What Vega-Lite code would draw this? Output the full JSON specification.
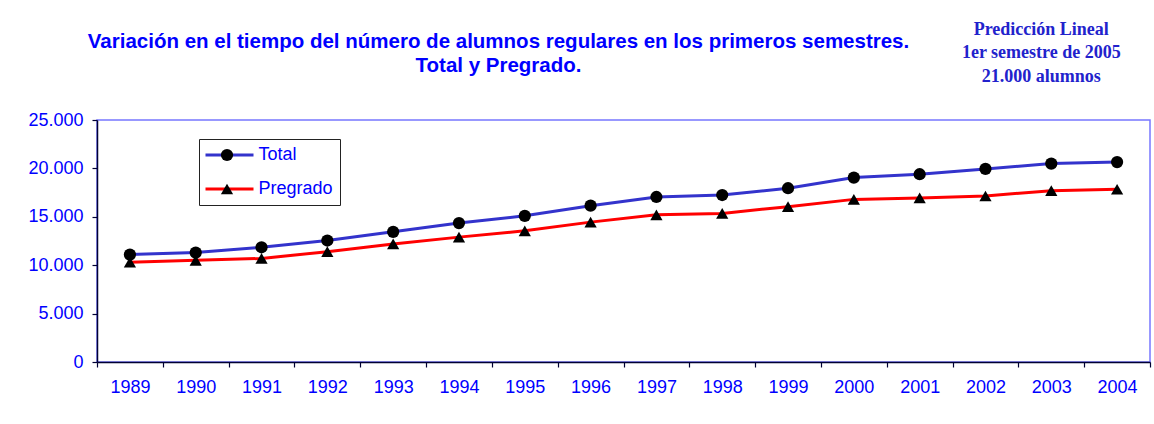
{
  "$schema": "https://vega.github.io/schema/vega-lite/v6.json",
  "autosize": "none",
  "width": 1053,
  "height": 242,
  "padding": {"left": 97, "top": 120, "right": 4, "bottom": 62},
  "background": "white",
  "title": {
    "text": ["Variación en el tiempo del número de alumnos  regulares en los primeros semestres.", "Total y Pregrado."],
    "anchor": "middle",
    "frame": "group",
    "dx": -125,
    "offset": -56,
    "font": "Liberation Sans",
    "fontSize": 20.5,
    "fontWeight": "bold",
    "color": "#0000FF",
    "lineHeight": 24
  },
  "data": {
    "values": [
      {"year": "1989", "serie": "Total", "alumnos": 11100},
      {"year": "1990", "serie": "Total", "alumnos": 11300},
      {"year": "1991", "serie": "Total", "alumnos": 11850},
      {"year": "1992", "serie": "Total", "alumnos": 12550},
      {"year": "1993", "serie": "Total", "alumnos": 13450},
      {"year": "1994", "serie": "Total", "alumnos": 14350},
      {"year": "1995", "serie": "Total", "alumnos": 15100},
      {"year": "1996", "serie": "Total", "alumnos": 16150},
      {"year": "1997", "serie": "Total", "alumnos": 17050},
      {"year": "1998", "serie": "Total", "alumnos": 17250},
      {"year": "1999", "serie": "Total", "alumnos": 17950},
      {"year": "2000", "serie": "Total", "alumnos": 19050},
      {"year": "2001", "serie": "Total", "alumnos": 19400},
      {"year": "2002", "serie": "Total", "alumnos": 19950},
      {"year": "2003", "serie": "Total", "alumnos": 20500},
      {"year": "2004", "serie": "Total", "alumnos": 20650},
      {"year": "1989", "serie": "Pregrado", "alumnos": 10300},
      {"year": "1990", "serie": "Pregrado", "alumnos": 10500},
      {"year": "1991", "serie": "Pregrado", "alumnos": 10700},
      {"year": "1992", "serie": "Pregrado", "alumnos": 11400},
      {"year": "1993", "serie": "Pregrado", "alumnos": 12200},
      {"year": "1994", "serie": "Pregrado", "alumnos": 12900},
      {"year": "1995", "serie": "Pregrado", "alumnos": 13550},
      {"year": "1996", "serie": "Pregrado", "alumnos": 14450},
      {"year": "1997", "serie": "Pregrado", "alumnos": 15200},
      {"year": "1998", "serie": "Pregrado", "alumnos": 15350},
      {"year": "1999", "serie": "Pregrado", "alumnos": 16050},
      {"year": "2000", "serie": "Pregrado", "alumnos": 16800},
      {"year": "2001", "serie": "Pregrado", "alumnos": 16950},
      {"year": "2002", "serie": "Pregrado", "alumnos": 17150},
      {"year": "2003", "serie": "Pregrado", "alumnos": 17700},
      {"year": "2004", "serie": "Pregrado", "alumnos": 17850}
    ]
  },
  "layer": [
    {
      "mark": {"type": "line", "strokeWidth": 3},
      "encoding": {
        "x": {
          "field": "year",
          "type": "ordinal",
          "scale": {"type": "band", "paddingInner": 0, "paddingOuter": 0},
          "axis": {
            "title": null,
            "labelAngle": 0,
            "tickBand": "extent",
            "tickSize": 5,
            "labelPadding": 11,
            "labelFont": "Liberation Sans",
            "labelFontSize": 18,
            "labelColor": "#0000FF",
            "domainColor": "#000033",
            "tickColor": "#000033",
            "domainWidth": 1.5,
            "tickWidth": 1.2
          }
        },
        "y": {
          "field": "alumnos",
          "type": "quantitative",
          "scale": {"domain": [0, 25000], "nice": false, "zero": true},
          "axis": {
            "title": null,
            "values": [0, 5000, 10000, 15000, 20000, 25000],
            "format": ",d",
            "grid": false,
            "tickSize": 5,
            "labelPadding": 9,
            "labelFont": "Liberation Sans",
            "labelFontSize": 18,
            "labelColor": "#0000FF",
            "domainColor": "#000033",
            "tickColor": "#000033",
            "domainWidth": 1.5,
            "tickWidth": 1.2
          }
        },
        "color": {
          "field": "serie",
          "type": "nominal",
          "scale": {"domain": ["Total", "Pregrado"], "range": ["#3333CC", "#FF0000"]},
          "legend": {
            "title": null,
            "orient": "none",
            "legendX": 102,
            "legendY": 19,
            "padding": 7,
            "fillColor": "white",
            "strokeColor": "#222222",
            "symbolType": "M-4.8,0H4.8",
            "symbolSize": 100,
            "symbolStrokeWidth": 3,
            "symbolOffset": 14.5,
            "labelOffset": 20,
            "rowPadding": 16,
            "labelFont": "Liberation Sans",
            "labelFontSize": 18,
            "labelColor": "#0000FF"
          }
        }
      }
    },
    {
      "mark": {"type": "point", "filled": true, "color": "black", "opacity": 1, "size": 150},
      "encoding": {
        "x": {"field": "year", "type": "ordinal"},
        "y": {"field": "alumnos", "type": "quantitative"},
        "shape": {
          "field": "serie",
          "type": "nominal",
          "scale": {"domain": ["Pregrado", "Total"], "range": ["triangle-up", "circle"]},
          "legend": {
            "title": null,
            "orient": "none",
            "values": ["Total", "Pregrado"],
            "legendX": 114,
            "legendY": 19,
            "padding": 7,
            "fillColor": "transparent",
            "strokeColor": "transparent",
            "symbolSize": 150,
            "symbolFillColor": "black",
            "symbolStrokeColor": "black",
            "symbolStrokeWidth": 0,
            "symbolOpacity": 1,
            "rowPadding": 16,
            "labelFont": "Liberation Sans",
            "labelFontSize": 18,
            "labelColor": "transparent"
          }
        }
      }
    },
    {
      "data": {"values": [{"nota": "prediccion", "year": "2003"}]},
      "mark": {
        "type": "text",
        "font": "Liberation Serif",
        "fontSize": 18,
        "fontWeight": "bold",
        "color": "#2222CC",
        "align": "center",
        "baseline": "middle",
        "lineHeight": 23.5,
        "dx": -10
      },
      "encoding": {
        "x": {"field": "year", "type": "ordinal"},
        "y": {"datum": 34300, "type": "quantitative"},
        "text": {"value": ["Predicción Lineal", "1er semestre de 2005", "21.000 alumnos"]}
      }
    }
  ],
  "config": {
    "view": {"stroke": "#7777FF", "strokeWidth": 1.5},
    "locale": {
      "number": {"decimal": ",", "thousands": ".", "grouping": [3], "currency": ["$", ""]}
    }
  }
}
